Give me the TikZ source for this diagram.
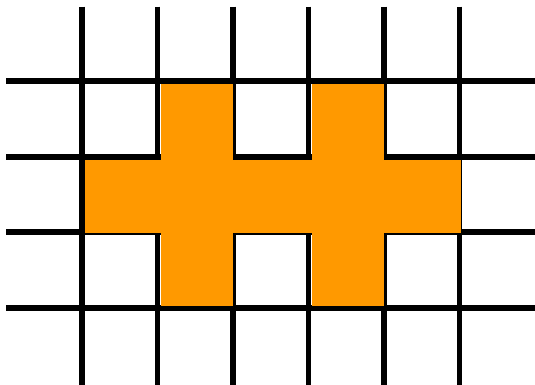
\documentclass[tikz,border=0pt]{standalone}
\usepackage{tikz}
\definecolor{cellorange}{RGB}{255,153,0}

\begin{document}
\begin{tikzpicture}[
    gridline/.style={draw=black, line width=2.25pt},
    cell/.style={fill=cellorange}
]
    \useasboundingbox (-1.086,-4.007) rectangle (6,1.079);

    % Grid
    \foreach \y in {0,-1,-2,-3}
        \draw[gridline] (-1,\y) -- (6.1,\y);
    \foreach \x in {0,...,5}
        \draw[gridline] (\x,0.99) -- (\x,-4.1);

    % Middle row
    \fill[cell] (0.04,-1.04) rectangle (5.02,-2.01);
    % Upper and lower arms
    \foreach \x in {1,3} {
        \fill[cell] (\x+0.04,-0.04) rectangle (\x+1,-1.5);
        \fill[cell] (\x+0.04,-1.5) rectangle (\x+1,-2.97);
    }
\end{tikzpicture}
\end{document}
